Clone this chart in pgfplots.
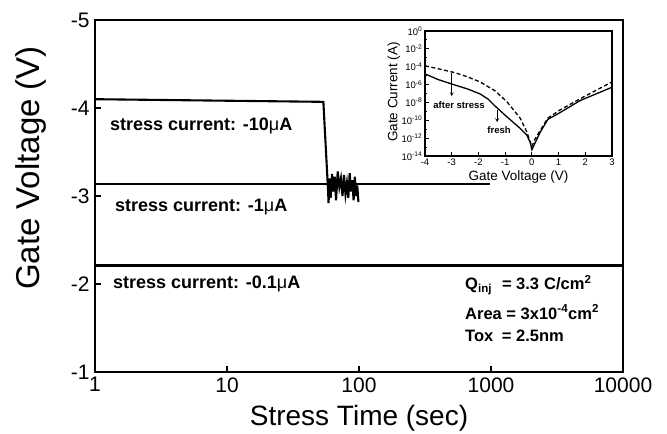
\documentclass[border=0pt]{standalone}
\usepackage{pgfplots}
\pgfplotsset{compat=1.18}
\usepackage{fontspec}
\setmainfont{Liberation Sans}
\begin{document}
\begin{tikzpicture}[x=1bp,y=1bp]
\useasboundingbox (-95,-62) rectangle (572,372);
\begin{axis}[
  name=main,
  at={(0,0)}, anchor=south west,
  scale only axis, width=528bp, height=352bp,
  xmode=log, xmin=1, xmax=10000,
  ymin=-5, ymax=-1, y dir=reverse,
  xtick={1,10,100,1000,10000}, xticklabels={1,10,100,1000,10000},
  ytick={-5,-4,-3,-2,-1}, yticklabels={-5,-4,-3,-2,-1},
  xminorticks=false, yminorticks=false,
  tick pos=left, tick align=inside, major tick length=6bp,
  every tick/.style={line width=1.8bp, black},
  ticklabel style={font=\fontsize{21bp}{24bp}\selectfont},
  xticklabel style={yshift=-2bp},
  yticklabel style={xshift=-2bp},
]
\addplot[black, line width=2.1bp] coordinates {
(1,-4.10) (53.7,-4.07) (58.3,-3.06)
(58.8,-2.92) (59.8,-3.20) (61,-2.98) (62.5,-3.25) (64,-3.05) (65.5,-3.22)
(67,-2.95) (69,-3.28) (71,-3.10) (73,-3.20) (75,-3.00) (77,-3.24)
(79,-3.02) (81,-3.15) (83,-2.98) (85,-3.26) (87,-3.05) (89,-3.18)
(91,-2.95) (93,-3.22) (95,-3.00) (97,-3.12) (99,-2.93)
};
\addplot[black, line width=2.1bp] coordinates {(1,-3.14) (980,-3.14)};
\addplot[black, line width=2.1bp] coordinates {(1,-2.21) (9800,-2.21)};
\end{axis}
\draw[line width=2.4bp] (0,0) rectangle (528,352);
\begin{axis}[
  name=inset,
  at={(330bp,216bp)}, anchor=south west,
  scale only axis, width=187bp, height=125bp,
  xmin=-4, xmax=3, ymin=-14, ymax=0,
  axis background/.style={fill=white},
  xtick={-4,-3,-2,-1,0,1,2,3}, xticklabels={-4,-3,-2,-1,0,1,2,3},
  ytick={-14,-12,-10,-8,-6,-4,-2,0},
  yticklabels={10\textsuperscript{-14},10\textsuperscript{-12},10\textsuperscript{-10},10\textsuperscript{-8},10\textsuperscript{-6},10\textsuperscript{-4},10\textsuperscript{-2},10\textsuperscript{0}},
  minor y tick num=1,
  tick pos=left, tick align=inside, major tick length=3.5bp, minor tick length=2bp,
  every tick/.style={line width=0.9bp, black},
  ticklabel style={font=\fontsize{9.5bp}{11bp}\selectfont, inner sep=1.5bp},
  xticklabel style={yshift=-1.5bp},
  yticklabel style={xshift=-1bp},
]
\addplot[black, line width=1.3bp] coordinates {
(-4,-4.8) (-3.5,-5.45) (-2.88,-6.05) (-2.4,-6.5) (-1.94,-7.05) (-1.65,-7.6)
(-1.38,-8.4) (-0.94,-9.6) (-0.44,-10.9) (-0.19,-11.65) (-0.06,-12.5) (0,-13.3)
(0.08,-12.8) (0.3,-11.4) (0.6,-9.9) (1.05,-9.15) (1.8,-7.8) (3,-6.3)
};
\addplot[black, line width=1.3bp, dash pattern=on 4bp off 2.5bp] coordinates {
(-4,-3.9) (-3.4,-4.3) (-2.88,-4.67) (-2.4,-5.15) (-1.94,-5.7) (-1.38,-6.7)
(-0.94,-7.9) (-0.44,-9.75) (-0.19,-11.3) (0,-12.95) (0.1,-12.2) (0.3,-11.2)
(0.6,-9.75) (1.05,-8.85) (1.8,-7.6) (3,-5.7)
};
\draw[->, >=stealth, line width=0.7bp] (axis cs:-3,-4.7) -- (axis cs:-3,-7.3);
\draw[->, >=stealth, line width=0.7bp] (axis cs:-1.3,-8.8) -- (axis cs:-1.3,-10.2);
\end{axis}
\draw[line width=1.6bp] (330,216) rectangle (517,341);
% inset labels and annotations
\node[font=\bfseries\fontsize{9.5bp}{11bp}\selectfont] at (364,267) {after stress};
\node[font=\bfseries\fontsize{9.5bp}{11bp}\selectfont] at (404,242) {fresh};
\node[font=\fontsize{13.5bp}{15bp}\selectfont] at (423.5,195) {Gate Voltage (V)};
\node[rotate=90, font=\fontsize{13.5bp}{15bp}\selectfont] at (299,280) {Gate Current (A)};
% main labels
\node[font=\fontsize{28bp}{32bp}\selectfont] at (264,-46) {Stress Time (sec)};
\node[rotate=90, font=\fontsize{33bp}{36bp}\selectfont] at (-64,204) {Gate Voltage (V)};
% main annotations
\node[anchor=west, inner sep=0pt, font=\bfseries\fontsize{18bp}{20bp}\selectfont] at (15,246) {stress current: -10{\mdseries μ}A};
\node[anchor=west, inner sep=0pt, font=\bfseries\fontsize{18bp}{20bp}\selectfont] at (20,165) {stress current: -1{\mdseries μ}A};
\node[anchor=west, inner sep=0pt, font=\bfseries\fontsize{18bp}{20bp}\selectfont] at (18,88) {stress current: -0.1{\mdseries μ}A};
\node[anchor=west, inner sep=0pt, font=\bfseries\fontsize{16.5bp}{18bp}\selectfont] at (370,87) {Q\textsubscript{inj}\hspace{10bp}= 3.3\hspace{5bp}C/cm\textsuperscript{2}};
\node[anchor=west, inner sep=0pt, font=\bfseries\fontsize{16.5bp}{18bp}\selectfont] at (370,60) {Area = 3x10\textsuperscript{-4}cm\textsuperscript{2}};
\node[anchor=west, inner sep=0pt, font=\bfseries\fontsize{16.5bp}{18bp}\selectfont] at (370,36) {Tox\hspace{4bp} = 2.5nm};
\end{tikzpicture}
\end{document}
